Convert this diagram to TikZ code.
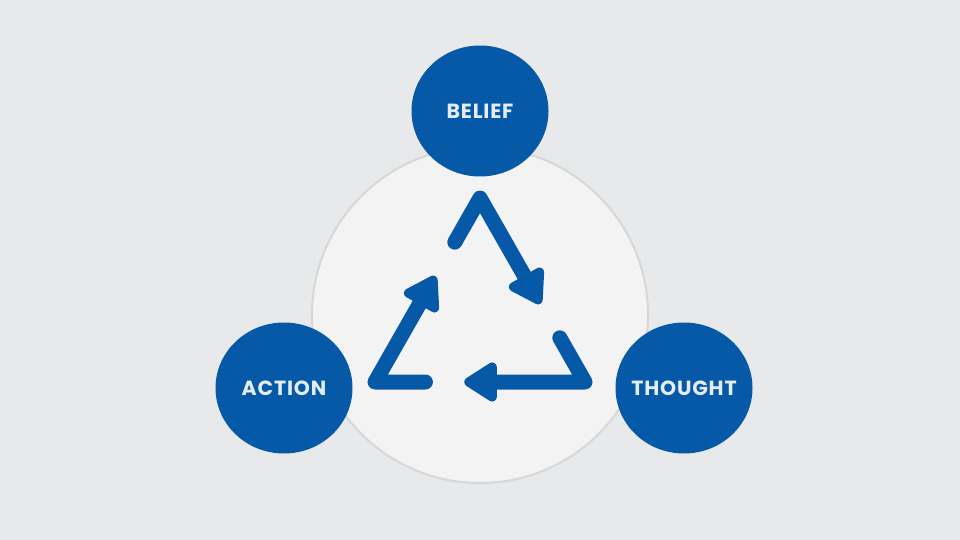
\documentclass[tikz,border=0pt]{standalone}
\usepackage{fontspec}
\setmainfont{Poppins}
\newfontfamily\labelfont{Poppins}[LetterSpace=4]
\usetikzlibrary{arrows.meta,calc,shapes.geometric}
\definecolor{bgc}{HTML}{E8E9EA}
\definecolor{ringfill}{HTML}{F3F3F3}
\definecolor{ringline}{HTML}{D6D7D8}
\definecolor{mainblue}{HTML}{0659A7}
\definecolor{labeltext}{HTML}{E4EDF6}
\tikzset{
  bubble/.style={ellipse, fill=mainblue, minimum width=137pt, minimum height=131pt,
    inner sep=0pt},
  bubbletext/.style={text=labeltext, inner sep=0pt,
    font=\labelfont\bfseries\fontsize{20.5}{23}\selectfont},
  cyclearrow/.style={draw=mainblue, line width=15pt, line cap=round, line join=round,
    -{Triangle[length=37pt,width=44pt,round]}},
}
\begin{document}
\begin{tikzpicture}[x=1pt,y=-1pt]
\useasboundingbox (0,0) rectangle (960,540);
\fill[bgc] (0,0) rectangle (960,540);
\node[circle, fill=ringfill, draw=ringline, line width=2pt, minimum size=336pt, inner sep=0pt] (ring) at (480,315) {};
\node[bubble, label={[bubbletext]center:BELIEF}] (belief) at (480,111) {};
\node[bubble, label={[bubbletext]center:ACTION}] (action) at (284,388) {};
\node[bubble, label={[bubbletext]center:THOUGHT}] (thought) at (684,388) {};
\coordinate (A) at (480,198);
\coordinate (L) at (375,382);
\coordinate (R) at (585,382);
\draw[cyclearrow] ($(A)!0.24!(L)$) -- (A) -- ($(A)!0.575!(R)$);
\draw[cyclearrow] ($(R)!0.24!(A)$) -- (R) -- ($(R)!0.575!(L)$);
\draw[cyclearrow] ($(L)!0.24!(R)$) -- (L) -- ($(L)!0.575!(A)$);
\end{tikzpicture}
\end{document}
